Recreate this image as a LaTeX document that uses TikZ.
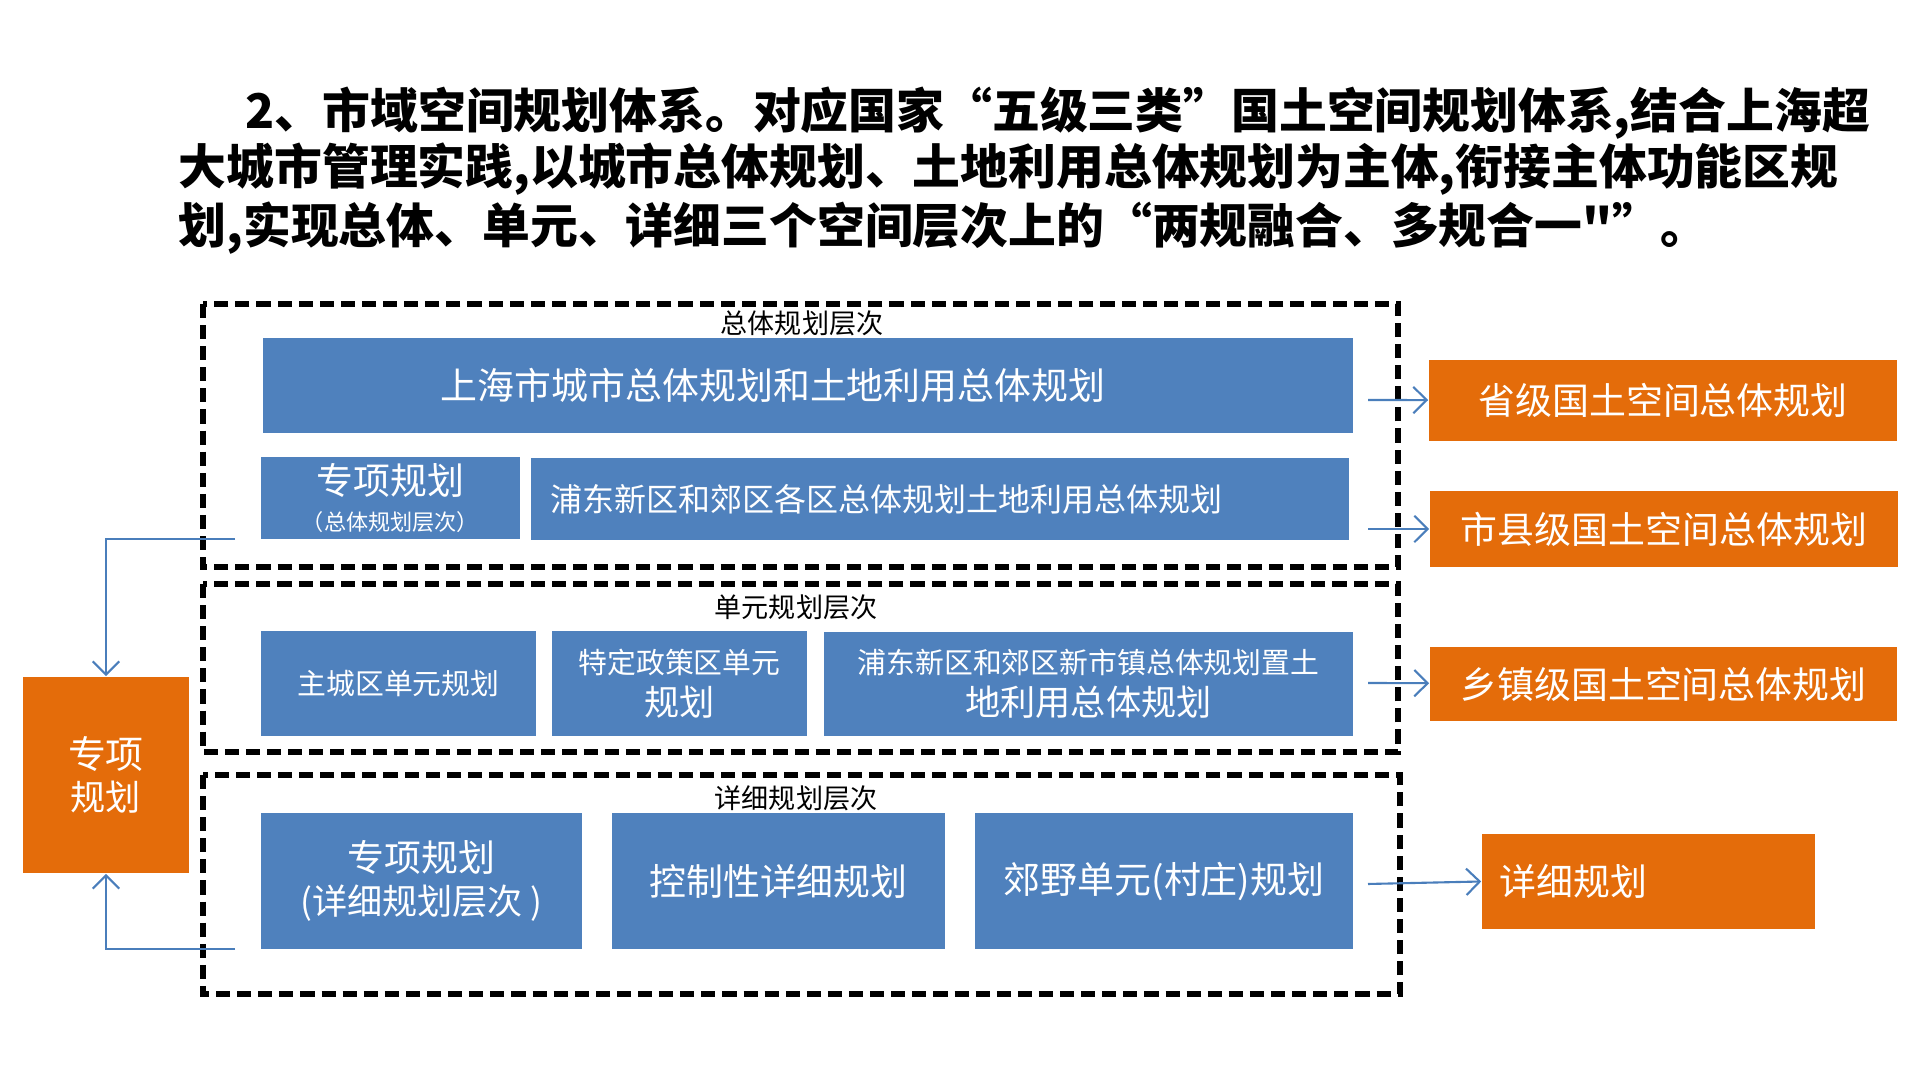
\documentclass[tikz,border=0pt]{standalone}
\usepackage{fontspec}
\setmainfont{Noto Sans CJK SC}
\newfontfamily\zhzhi{Noto Sans CJK SC}
\usetikzlibrary{arrows.meta}

\definecolor{lanse}{RGB}{79,129,189}
\definecolor{chengse}{RGB}{228,108,10}
\definecolor{xianse}{RGB}{74,126,187}

\def\zhbiaoti{\fontsize{13.6}{16}\selectfont}
\def\zhda{\fontsize{10.5}{12.8}\selectfont}
\def\zhzhong{\fontsize{9.1}{11}\selectfont}
\def\zhxiao{\fontsize{8.2}{9.7}\selectfont}
\def\zhceng{\fontsize{7.7}{9}\selectfont}
\def\zhwei{\fontsize{6.3}{7.5}\selectfont}

\begin{document}
\begin{tikzpicture}[x=0.01cm,y=-0.01cm,
    lankuang/.style={fill=lanse,text=white,inner sep=0pt,align=center},
    chengkuang/.style={fill=chengse,text=white,inner sep=0pt,align=center},
    cengci/.style={draw,line width=1.6pt,dash pattern=on 4pt off 2pt},
    jiantou/.style={draw=xianse,line width=0.6pt,-{Straight Barb[length=3.8pt,width=7.5pt]}}]
\useasboundingbox (0,0) rectangle (1920,1080);

%标题
    \node[anchor=west,inner sep=0pt] (biaoti1) at (245,113) {\zhbiaoti\bfseries 2、市域空间规划体系。对应国家“五级三类”国土空间规划体系,结合上海超};
    \node[anchor=west,inner sep=0pt] (biaoti2) at (178,169) {\zhbiaoti\bfseries 大城市管理实践,以城市总体规划、土地利用总体规划为主体,衔接主体功能区规};
    \node[anchor=west,inner sep=0pt] (biaoti3) at (178,228) {\zhbiaoti\bfseries 划,实现总体、单元、详细三个空间层次上的“两规融合、多规合一{\zhzhi\bfseries "}”。};

%层次框
    \draw[cengci] (203,304) rectangle (1398,567);
    \draw[cengci] (203,584) rectangle (1398,752);
    \draw[cengci] (203,775) rectangle (1400,994);
    \node (zongticeng) at (802,323) {\zhceng 总体规划层次};
    \node (danyuanceng) at (796,607) {\zhceng 单元规划层次};
    \node (xiangxiceng) at (796,798) {\zhceng 详细规划层次};

%总体
    \node[lankuang,text width=7.34cm,inner xsep=1.78cm,align=left,minimum height=0.95cm] (shzt) at (808,385.5) {\zhda 上海市城市总体规划和土地利用总体规划};
    \node[lankuang,minimum width=2.59cm,minimum height=0.82cm] (zxzt) at (390.5,498) {\zhda 专项规划\\[-2pt]\zhwei （总体规划层次）};
    \node[lankuang,text width=7.78cm,inner xsep=0.2cm,align=left,minimum height=0.82cm] (pdgq) at (940,499) {\zhzhong 浦东新区和郊区各区总体规划土地利用总体规划};

%单元
    \node[lankuang,minimum width=2.75cm,minimum height=1.05cm] (zcq) at (398.5,683.5) {\zhxiao 主城区单元规划};
    \node[lankuang,minimum width=2.55cm,minimum height=1.05cm] (tdzc) at (679.5,683.5) {\zhxiao 特定政策区单元\\规划};
    \node[lankuang,minimum width=5.29cm,minimum height=1.04cm] (pdxsz) at (1088.5,684) {\zhxiao 浦东新区和郊区新市镇总体规划置土\\地利用总体规划};

%详细
    \node[lankuang,minimum width=3.21cm,minimum height=1.36cm] (zxxx) at (421.5,881) {\zhda 专项规划\\(详细规划层次 )};
    \node[lankuang,minimum width=3.33cm,minimum height=1.36cm] (kzx) at (778.5,881) {\zhda 控制性详细规划};
    \node[lankuang,minimum width=3.78cm,minimum height=1.36cm] (jydy) at (1164,881) {\zhda 郊野单元(村庄)规划};

%右侧
    \node[chengkuang,minimum width=4.68cm,minimum height=0.81cm] (shengji) at (1663,400.5) {\zhda 省级国土空间总体规划};
    \node[chengkuang,minimum width=4.68cm,minimum height=0.76cm] (shixian) at (1664,529) {\zhda 市县级国土空间总体规划};
    \node[chengkuang,minimum width=4.67cm,minimum height=0.74cm] (xiangzhen) at (1663.5,684) {\zhda 乡镇级国土空间总体规划};
    \node[chengkuang,text width=2.97cm,inner xsep=0.18cm,align=left,minimum height=0.95cm] (xiangxi) at (1648.5,881.5) {\zhda 详细规划};

%左侧
    \node[chengkuang,minimum width=1.66cm,minimum height=1.96cm] (zhuanxiang) at (106,775) {\fontsize{10.8}{13.2}\selectfont 专项\\规划};

%箭头
    \coordinate (q1) at (1368,400);
    \coordinate (q2) at (1368,529);
    \coordinate (q3) at (1368,683);
    \coordinate (q4) at (1368,884);
    \draw[jiantou] (q1) -- (shengji);
    \draw[jiantou] (q2) -- (shixian);
    \draw[jiantou] (q3) -- (xiangzhen);
    \draw[jiantou] (q4) -- (xiangxi.west);

    \coordinate (z1) at (235,539);
    \coordinate (z2) at (235,949);
    \draw[jiantou] (z1) -| (zhuanxiang.north);
    \draw[jiantou] (z2) -| (zhuanxiang.south);

\end{tikzpicture}
\end{document}
